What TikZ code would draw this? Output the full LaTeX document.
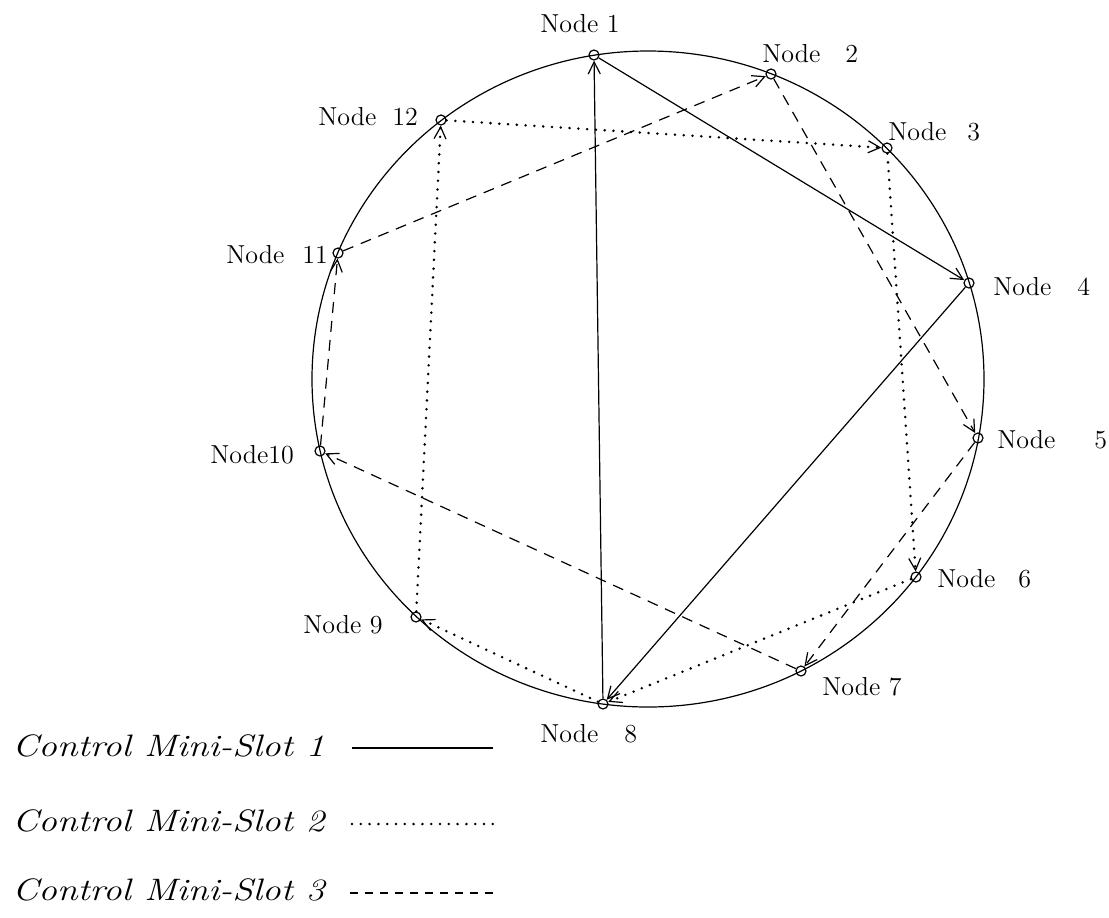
\documentclass[tikz,border=0pt]{standalone}
\usetikzlibrary{arrows.meta}
\begin{document}
\begin{tikzpicture}[x=0.5pt,y=-0.5pt,
  stn/.style={circle,draw,line width=0.6pt,inner sep=0pt,minimum size=5pt},
  lbl/.style={anchor=base west,inner sep=0pt,font=\fontsize{13}{15}\selectfont},
  leg/.style={anchor=base west,inner sep=0pt},
  tip/.style={-{Straight Barb[length=6pt,width=6pt,line width=0.6pt]}},
  lineone/.style={line width=0.6pt},
  linetwo/.style={line width=1.4pt,line cap=round,dash pattern=on 0pt off 4.4pt},
  linethree/.style={line width=0.6pt,dash pattern=on 5.5pt off 4pt},
]
\useasboundingbox (0,0) rectangle (1109,917);
\draw[line width=0.6pt] (648,379) ellipse [x radius=336, y radius=328];

\node[stn] (n1) at (594,55) {};
\node[stn] (n2) at (771,74) {};
\node[stn] (n3) at (887,148) {};
\node[stn] (n4) at (969,283) {};
\node[stn] (n5) at (978,438) {};
\node[stn] (n6) at (916,577) {};
\node[stn] (n7) at (801,671) {};
\node[stn] (n8) at (603,704) {};
\node[stn] (n9) at (416,617) {};
\node[stn] (n10) at (320,451) {};
\node[stn] (n11) at (338,253) {};
\node[stn] (n12) at (441,120) {};

\node[lbl] (l1) at (540,32) {Node 1};
\node[lbl] (l2) at (762,62) {Node\hspace{12.5pt}2};
\node[lbl] (l3) at (888,140) {Node\hspace{10.5pt}3};
\node[lbl] (l4) at (993,295) {Node\hspace{13pt}4};
\node[lbl] (l5) at (997,448) {Node\hspace{19.5pt}5};
\node[lbl] (l6) at (937,587) {Node\hspace{11.5pt}6};
\node[lbl] (l7) at (822,695) {Node 7};
\node[lbl] (l8) at (540,742) {Node\hspace{13pt}8};
\node[lbl] (l9) at (303,633) {Node 9};
\node[lbl] (l10) at (210,463) {Node10};
\node[lbl] (l11) at (226,263) {Node\hspace{9pt}11};
\node[lbl] (l12) at (318,125) {Node\hspace{8pt}12};

% Control Mini-Slot 1
\draw[lineone,tip] (n1) -- (n4);
\draw[lineone,tip] (n4) -- (n8);
\draw[lineone,tip] (n8) -- (n1);
% Control Mini-Slot 2
\draw[linetwo,tip] (n12) -- (n3);
\draw[linetwo,tip] (n3) -- (n6);
\draw[linetwo,tip] (n6) -- (n8);
\draw[linetwo,tip] (n8) -- (n9);
\draw[linetwo,tip] (n9) -- (n12);
% Control Mini-Slot 3
\draw[linethree,tip] (n11) -- (n2);
\draw[linethree,tip] (n2) -- (n5);
\draw[linethree,tip] (n5) -- (n7);
\draw[linethree,tip] (n7) -- (n10);
\draw[linethree,tip] (n10) -- (n11);

% legend
\node[leg] (t1) at (12,756) {\scalebox{1.2}[1]{\fontsize{15.5}{18}\selectfont\itshape Control Mini-Slot 1}};
\node[leg] (t2) at (12,831) {\scalebox{1.2}[1]{\fontsize{15.5}{18}\selectfont\itshape Control Mini-Slot 2}};
\node[leg] (t3) at (12,900) {\scalebox{1.2}[1]{\fontsize{15.5}{18}\selectfont\itshape Control Mini-Slot 3}};
\coordinate (a1) at (352,748); \coordinate (b1) at (493,748);
\coordinate (a2) at (352,824); \coordinate (b2) at (497,824);
\coordinate (a3) at (350,893); \coordinate (b3) at (496,893);
\draw[lineone] (a1) -- (b1);
\draw[linetwo] (a2) -- (b2);
\draw[line width=0.6pt,dash pattern=on 4pt off 3.5pt] (a3) -- (b3);
\end{tikzpicture}
\end{document}
